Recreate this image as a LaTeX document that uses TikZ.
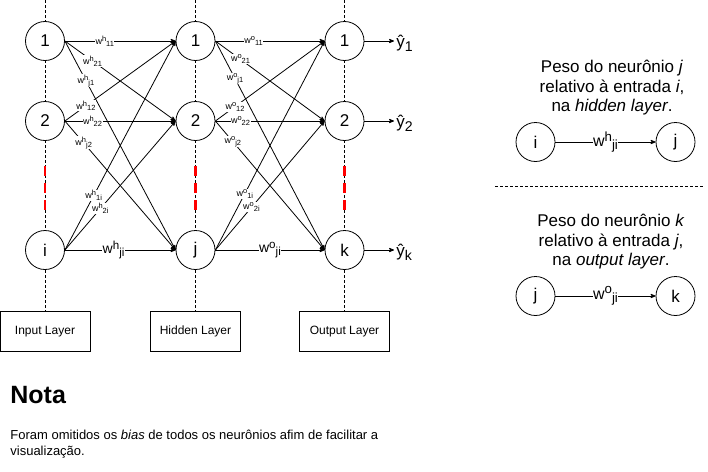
\documentclass[tikz,border=0pt]{standalone}
\usepackage{fontspec}
\usepackage{graphicx}
\setmainfont{Liberation Sans}
\usetikzlibrary{arrows,positioning}
\newcommand{\wsupsub}[2]{w\raisebox{0.33em}{\scalebox{0.83}{#1}}\raisebox{-0.22em}{\scalebox{0.83}{#2}}}
\newcommand{\ysub}[1]{ŷ\raisebox{-0.22em}{\scalebox{0.83}{#1}}}

\begin{document}
\begin{tikzpicture}[x=1pt, y=-1pt, >=stealth', line width=0.8pt,
  neuron/.style={draw, circle, fill=white, minimum size=39pt, inner sep=0pt, font=\fontsize{17}{20}\selectfont},
  layerbox/.style={draw, rectangle, minimum width=90pt, minimum height=40pt, font=\fontsize{12}{14}\selectfont},
  wsmall/.style={fill=white, inner sep=0.5pt, font=\fontsize{9}{10}\selectfont},
  wbig/.style={fill=white, inner sep=0.5pt, font=\fontsize{14}{16}\selectfont},
  wleg/.style={fill=white, inner sep=0.5pt, font=\fontsize{16}{18}\selectfont},
  legtext/.style={align=center, font=\fontsize{17}{19.5}\selectfont},
  guide/.style={densely dashed, line width=0.7pt},
  gap/.style={red, line width=2.5pt, dash pattern=on 10pt off 7pt}]
\useasboundingbox (0,0) rectangle (708,471);

% layer boxes
\node[layerbox] (inbox) at (45,331.5) {Input Layer};
\node[layerbox] (hidbox) at (195.5,331.5) {Hidden Layer};
\node[layerbox] (outbox) at (344.5,331.5) {Output Layer};

% vertical guides
\coordinate (intop) at (45,0);
\coordinate (hidtop) at (195.5,0);
\coordinate (outtop) at (344.5,0);
\draw[guide] (intop) -- (inbox.north);
\draw[guide] (hidtop) -- (hidbox.north);
\draw[guide] (outtop) -- (outbox.north);
\draw[gap] (45,166) -- (45,211);
\draw[gap] (195.5,166) -- (195.5,211);
\draw[gap] (344.5,166) -- (344.5,211);

% neurons
\node[neuron] (i1) at (45,41) {1};
\node[neuron] (i2) at (45,121) {2};
\node[neuron] (ii) at (45,250) {i};
\node[neuron] (h1) at (195.5,41) {1};
\node[neuron] (h2) at (195.5,121) {2};
\node[neuron] (hj) at (195.5,250) {j};
\node[neuron] (o1) at (344.5,41) {1};
\node[neuron] (o2) at (344.5,121) {2};
\node[neuron] (ok) at (344.5,250) {k};

% input -> hidden
\draw[->] (i1.east) -- node[wsmall, pos=.36] {\wsupsub{h}{11}} (h1.west);
\draw[->] (i1.east) -- node[wsmall, pos=.25] {\wsupsub{h}{21}} (h2.west);
\draw[->] (i1.east) -- node[wsmall, pos=.19] {\wsupsub{h}{j1}} (hj.west);
\draw[->] (i2.east) -- node[wsmall, pos=.19] {\wsupsub{h}{12}} (h1.west);
\draw[->] (i2.east) -- node[wsmall, pos=.25] {\wsupsub{h}{22}} (h2.west);
\draw[->] (i2.east) -- node[wsmall, pos=.17] {\wsupsub{h}{j2}} (hj.west);
\draw[->] (ii.east) -- node[wsmall, pos=.26] {\wsupsub{h}{1i}} (h1.west);
\draw[->] (ii.east) -- node[wsmall, pos=.32] {\wsupsub{h}{2i}} (h2.west);
\draw[->] (ii.east) -- node[wbig, pos=.44] {\wsupsub{h}{ji}} (hj.west);

% hidden -> output
\draw[->] (h1.east) -- node[wsmall, pos=.35] {\wsupsub{o}{11}} (o1.west);
\draw[->] (h1.east) -- node[wsmall, pos=.23] {\wsupsub{o}{21}} (o2.west);
\draw[->] (h1.east) -- node[wsmall, pos=.18] {\wsupsub{o}{j1}} (ok.west);
\draw[->] (h2.east) -- node[wsmall, pos=.18] {\wsupsub{o}{12}} (o1.west);
\draw[->] (h2.east) -- node[wsmall, pos=.23] {\wsupsub{o}{22}} (o2.west);
\draw[->] (h2.east) -- node[wsmall, pos=.16] {\wsupsub{o}{j2}} (ok.west);
\draw[->] (hj.east) -- node[wsmall, pos=.27] {\wsupsub{o}{1i}} (o1.west);
\draw[->] (hj.east) -- node[wsmall, pos=.33] {\wsupsub{o}{2i}} (o2.west);
\draw[->] (hj.east) -- node[wbig, pos=.5] {\wsupsub{o}{ji}} (ok.west);

% outputs
\node[anchor=west, inner sep=2pt, font=\fontsize{17}{20}\selectfont] (y1) at (394,43) {\ysub{1}};
\node[anchor=west, inner sep=2pt, font=\fontsize{17}{20}\selectfont] (y2) at (394,123) {\ysub{2}};
\node[anchor=west, inner sep=2pt, font=\fontsize{17}{20}\selectfont] (yk) at (394,252) {\ysub{k}};
\draw[->] (o1.east) -- (y1.west |- o1.east);
\draw[->] (o2.east) -- (y2.west |- o2.east);
\draw[->] (ok.east) -- (yk.west |- ok.east);

% legend
\node[legtext] (hidtxt) at (612,88) {Peso do neurônio \textit{j}\\relativo à entrada \textit{i},\\na \textit{hidden layer}.};
\node[neuron] (li) at (535.5,142) {i};
\node[neuron] (lj) at (675.5,142) {j};
\draw[->] (li) -- node[wleg] {\wsupsub{h}{ji}} (lj);
\coordinate (sepl) at (495,186);
\coordinate (sepr) at (704,186);
\draw[guide] (sepl) -- (sepr);
\node[legtext] (outtxt) at (611,242) {Peso do neurônio \textit{k}\\relativo à entrada \textit{j},\\na \textit{output layer}.};
\node[neuron] (lj2) at (535.5,296) {j};
\node[neuron] (lk) at (675.5,296) {k};
\draw[->] (lj2) -- node[wleg] {\wsupsub{o}{ji}} (lk);

% note
\node[anchor=base west, inner sep=0pt, font=\bfseries\fontsize{25}{30}\selectfont] (nota) at (10,403) {Nota};
\node[anchor=north west, inner sep=0pt, align=left, font=\fontsize{13}{16}\selectfont] (notatxt) at (10,429.5) {Foram omitidos os \textit{bias} de todos os neurônios afim de facilitar a\\visualização.};
\end{tikzpicture}
\end{document}
